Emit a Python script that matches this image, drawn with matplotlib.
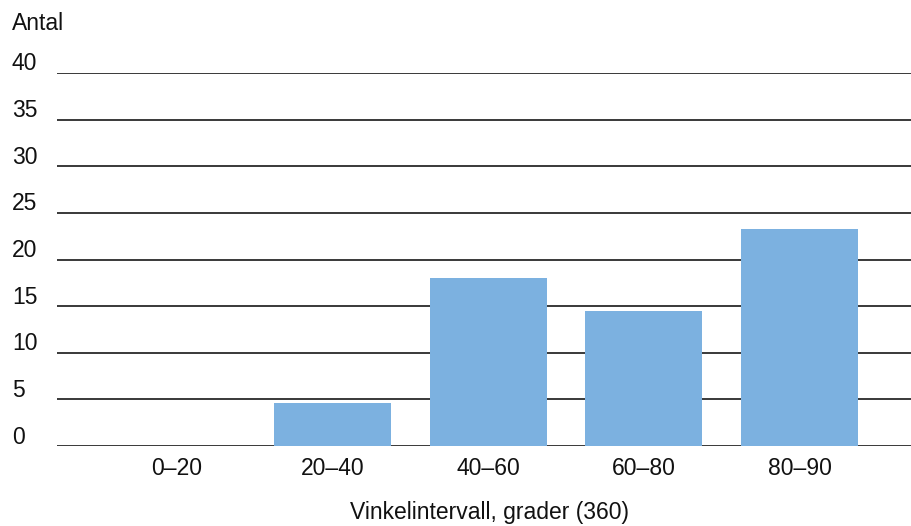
import matplotlib

matplotlib.use("Agg")

import matplotlib.pyplot as plt
import matplotlib.transforms as mtransforms

plt.rcParams["font.family"] = ["Liberation Sans", "DejaVu Sans"]

categories = ["0–20", "20–40", "40–60", "60–80", "80–90"]
counts = [0, 4.6, 18.0, 14.5, 23.3]
y_ticks = [0, 5, 10, 15, 20, 25, 30, 35, 40]

BAR = "#7CB1E0"
LINE = "#2a2a2a"
TEXT = "#111111"
FS = 16.5

fig = plt.figure(figsize=(9.11, 5.26), dpi=100, facecolor="white")
ax = fig.add_axes([57 / 911, 80 / 526, 854 / 911, 373 / 526])

x = list(range(len(categories)))
ax.bar(x, counts, width=0.75, color=BAR, zorder=3)

ax.set_xlim(-0.77, 4.716)
ax.set_ylim(0, 40)

for v in y_ticks:
    ax.axhline(v, color=LINE, linewidth=1.3, zorder=2)

ax.set_yticks([])
ax.set_xticks(x)
ax.set_xticklabels(categories, fontsize=FS, color=TEXT)
ax.tick_params(axis="x", length=0, pad=8)
for s in ax.spines.values():
    s.set_visible(False)

# y tick labels sit just above their gridline, flush left in the figure
trans = mtransforms.blended_transform_factory(fig.transFigure, ax.transData)
trans = trans + mtransforms.ScaledTranslation(0, 2.5 / 100, fig.dpi_scale_trans)
for v in y_ticks:
    ax.text(12 / 911, v, str(v), transform=trans, ha="left", va="baseline",
            fontsize=FS, color=TEXT, clip_on=False)

fig.text(12 / 911, 1 - 24 / 526, "Antal", ha="left", va="center", fontsize=FS, color=TEXT)
fig.text(489 / 911, 1 - 512 / 526, "Vinkelintervall, grader (360)", ha="center", va="center",
         fontsize=FS, color=TEXT)

fig.savefig("out.png", dpi=100, facecolor="white")
